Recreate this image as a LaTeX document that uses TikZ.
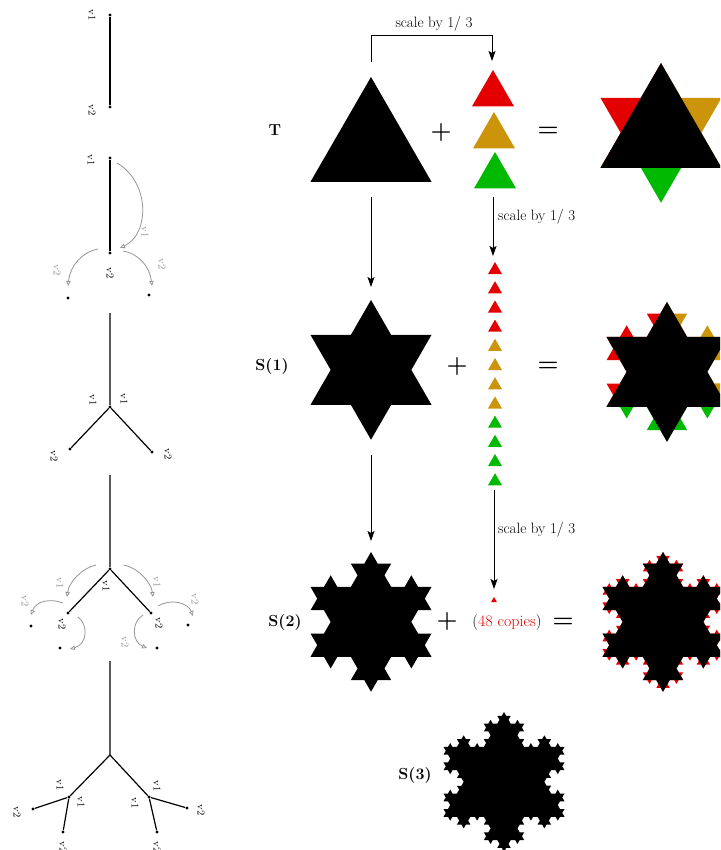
\documentclass[tikz,border=0pt]{standalone}
\usetikzlibrary{decorations.fractals, arrows.meta, calc}

\definecolor{kred}{RGB}{228,0,0}
\definecolor{kgold}{RGB}{204,148,10}
\definecolor{kgreen}{RGB}{0,185,0}
\definecolor{kgray}{RGB}{150,150,150}

% equilateral triangle of side 121, given by its top vertex (traced so bumps grow outwards)
\newcommand\tri[1]{(#1) -- ++(60.5,104.79) -- ++(-121,0) -- ++(60.5,-104.79)}
% small upright triangle: colour, top vertex, side
\newcommand\minitri[3]{\fill[#1] (#2) -- ++({-#3/2},{0.866*#3}) -- ++(#3,0) -- cycle;}
% outer bumps coloured by the side of the original triangle they grow from
\newcommand\bumps[3]{%
  \begin{scope}\clip (#1) -- ++(0,-250) -- ++(-250,0) -- ++(0,394.3) -- cycle; \fill[kred] #2; \end{scope}
  \begin{scope}\clip (#1) -- ++(0,-250) -- ++(250,0) -- ++(0,394.3) -- cycle; \fill[kgold] #2; \end{scope}
  \begin{scope}\clip (#1) -- ++(-250,144.3) -- ++(0,200) -- ++(500,0) -- ++(0,-200) -- cycle; \fill[kgreen] #2; \end{scope}
  \fill #3;}

\begin{document}
\begin{tikzpicture}[x=1pt, y=-1pt, decoration=Koch snowflake,
  dot/.style={circle, fill=black, inner sep=0pt, minimum size=3.4pt},
  lbl/.style={font=\fontsize{10.5}{12}\selectfont, rotate=-90, inner sep=0pt},
  glbl/.style={lbl, text=kgray},
  edge/.style={line width=1.2pt},
  move/.style={kgray, line width=0.8pt, -{Triangle[open, length=5pt, width=4.5pt]}},
  conn/.style={line width=0.9pt, -{Stealth[length=10pt, width=7pt, inset=2pt]}},
  txt/.style={font=\fontsize{15}{17}\selectfont, inner sep=0pt},
  title/.style={font=\fontsize{16}{18}\selectfont\bfseries, inner sep=0pt},
  op/.style={font=\fontsize{24}{26}\selectfont\bfseries, inner sep=0pt}]
\useasboundingbox (0,0) rectangle (720,850);
\fill[white] (0,0) rectangle (720,850);
\clip (0,0) rectangle (720,850);

% ---------- left column: growth of the branching rule ----------
% stage 1
\node[dot] (a1) at (110,15) {};
\node[dot] (a2) at (110,107) {};
\draw[edge] (a1) -- (a2);
\node[lbl] (a1l) at (92,15) {v1};
\node[lbl] (a2l) at (92,110) {v2};

% stage 2
\node[dot] (b1) at (110,158) {};
\node[dot] (b2) at (110,253) {};
\draw[edge] (b1) -- (b2);
\node[lbl] (b1l) at (91,160) {v1};
\node[lbl] (b2l) at (110,273) {v2};
\coordinate (b1s) at (117,163);
\coordinate (b1e) at (120,248);
\draw[move] (b1s) .. controls (150,182) and (150,234) .. (b1e);
\node[glbl] (b1g) at (145,232) {v1};
\node[dot] (b3) at (68,298) {};
\node[dot] (b4) at (149,295) {};
\coordinate (b3s) at (98,249);
\coordinate (b3e) at (68,286);
\draw[move] (b3s) .. controls (82,252) and (70,266) .. (b3e);
\node[glbl] (b3g) at (57,270) {v2};
\coordinate (b4s) at (123,251);
\coordinate (b4e) at (152,286);
\draw[move] (b4s) .. controls (140,254) and (150,268) .. (b4e);
\node[glbl] (b4g) at (162,264) {v2};

% stage 3
\coordinate (c0) at (110,313);
\node[dot] (c1) at (110,407) {};
\node[dot] (c2) at (70,449) {};
\node[dot] (c3) at (152,452) {};
\draw[edge] (c0) -- (c1) -- (c2);
\draw[edge] (c1) -- (c3);
\node[lbl] (c1l) at (93,400) {v1};
\node[lbl] (c1r) at (124,399) {v1};
\node[lbl] (c2l) at (54,456) {v2};
\node[lbl] (c3l) at (168,454) {v2};

% stage 4
\coordinate (d0) at (110,475);
\node[dot] (d1) at (110,569) {};
\node[dot] (d2) at (68,613) {};
\node[dot] (d3) at (151,613) {};
\draw[edge] (d0) -- (d1) -- (d2);
\draw[edge] (d1) -- (d3);
\node[lbl] (d1l) at (106,586) {v1};
\node[lbl] (d2l) at (62,624) {v2};
\node[lbl] (d3l) at (159,623) {v2};
\coordinate (d1as) at (96,565);  \coordinate (d1ae) at (67,597);
\draw[move] (d1as) .. controls (82,568) and (69,582) .. (d1ae);
\node[glbl] (d1ag) at (60,583) {v1};
\coordinate (d1bs) at (124,565); \coordinate (d1be) at (153,597);
\draw[move] (d1bs) .. controls (138,568) and (151,582) .. (d1be);
\node[glbl] (d1bg) at (157,582) {v1};
\node[dot] (d4) at (31,626) {};
\coordinate (d2as) at (63,603); \coordinate (d2ae) at (31,615);
\draw[move] (d2as) .. controls (50,598) and (36,601) .. (d2ae);
\node[glbl] (d2ag) at (25,601) {v2};
\node[dot] (d5) at (60,648) {};
\coordinate (d2bs) at (78,617); \coordinate (d2be) at (70,649);
\draw[move] (d2bs) .. controls (88,624) and (88,644) .. (d2be);
\node[dot] (d6) at (188,625) {};
\coordinate (d3as) at (158,606); \coordinate (d3ae) at (193,616);
\draw[move] (d3as) .. controls (172,598) and (188,603) .. (d3ae);
\node[glbl] (d3ag) at (195,599) {v2};
\node[dot] (d7) at (157,648) {};
\coordinate (d3bs) at (143,615); \coordinate (d3be) at (147,648);
\draw[move] (d3bs) .. controls (131,622) and (132,642) .. (d3be);
\node[glbl] (d3bg) at (125,642) {v2};

% stage 5
\coordinate (e0) at (110,661);
\coordinate (e1) at (110,755);
\node[dot] (e2) at (69,797) {};
\node[dot] (e3) at (149,797) {};
\node[dot] (e4) at (33,809) {};
\node[dot] (e5) at (63,832) {};
\node[dot] (e6) at (187,808) {};
\node[dot] (e7) at (157,832) {};
\draw[edge] (e0) -- (e1) -- (e2) -- (e4);
\draw[edge] (e2) -- (e5);
\draw[edge] (e1) -- (e3) -- (e6);
\draw[edge] (e3) -- (e7);
\node[lbl] (e2a) at (60,785) {v1};
\node[lbl] (e2b) at (81,802) {v1};
\node[lbl] (e4l) at (17,812) {v2};
\node[lbl] (e5l) at (63,847) {v2};
\node[lbl] (e3a) at (157,786) {v1};
\node[lbl] (e3b) at (135,803) {v1};
\node[lbl] (e6l) at (201,810) {v2};
\node[lbl] (e7l) at (157,847) {v2};

% ---------- right part: building the Koch snowflake ----------
% row T
\node[title] (tT) at (275,130) {T};
\coordinate (Ta) at (371,77);
\fill \tri{Ta};
\node[op] (p1) at (441,133) {+};
\minitri{kred}{493,70}{42}
\minitri{kgold}{494,112}{42}
\minitri{kgreen}{495,152}{42}
\node[op] (q1) at (548,132) {=};
\coordinate (Ra) at (661,63);
\coordinate (Rc) at (661,132.9);
\bumps{Rc}{decorate{\tri{Ra}}}{\tri{Ra}}

% first scaling bracket
\coordinate (Ttop) at (371,62);
\coordinate (Mtop) at (492,61);
\draw[conn] (Ttop) -- ++(0,-27) -| (Mtop);
\node[txt] (sc1) at (434,24) {scale by 1/ 3};

% downward arrows
\coordinate (Tbot) at (371,197);
\coordinate (S1top) at (371,287);
\draw[conn] (Tbot) -- (S1top);
\coordinate (Mbot) at (493,197);
\coordinate (Ctop) at (493,256);
\draw[conn] (Mbot) -- (Ctop);
\node[txt, anchor=west] (sc2) at (498,217) {scale by 1/ 3};

% row S(1)
\node[title] (tS1) at (272,367) {S(1)};
\coordinate (S1a) at (371,300);
\fill decorate{\tri{S1a}};
\node[op] (p2) at (457,367) {+};
\foreach \i/\c in {0/kred,1/kred,2/kred,3/kred,4/kgold,5/kgold,6/kgold,7/kgold,8/kgreen,9/kgreen,10/kgreen,11/kgreen}
  {\minitri{\c}{495,{262+19.2*\i}}{14}}
\node[op] (q2) at (548,367) {=};
\coordinate (R1a) at (667,302);
\coordinate (R1c) at (667,371.9);
\bumps{R1c}{decorate{decorate{\tri{R1a}}}}{decorate{\tri{R1a}}}

\coordinate (S1bot) at (371,455);
\coordinate (S2top) at (371,541);
\draw[conn] (S1bot) -- (S2top);
\coordinate (Cbot) at (494,490);
\coordinate (Dtop) at (494,589);
\draw[conn] (Cbot) -- (Dtop);
\node[txt, anchor=west] (sc3) at (498,530) {scale by 1/ 3};

% row S(2)
\node[title] (tS2) at (285,623) {S(2)};
\coordinate (S2a) at (371,552);
\fill decorate{decorate{\tri{S2a}}};
\node[op] (p3) at (447,622) {+};
\minitri{kred}{494,597}{6}
\node[txt, font=\fontsize{16}{18}\selectfont] (cp) at (507,623) {(\textcolor{kred}{48 copies})};
\node[op] (q3) at (563,623) {=};
\coordinate (R2a) at (663,552);
\fill[kred] decorate{decorate{decorate{\tri{R2a}}}};
\fill decorate{decorate{\tri{R2a}}};

% row S(3)
\node[title] (tS3) at (415,775) {S(3)};
\coordinate (S3a) at (504,712);
\fill decorate{decorate{decorate{\tri{S3a}}}};
\end{tikzpicture}
\end{document}
